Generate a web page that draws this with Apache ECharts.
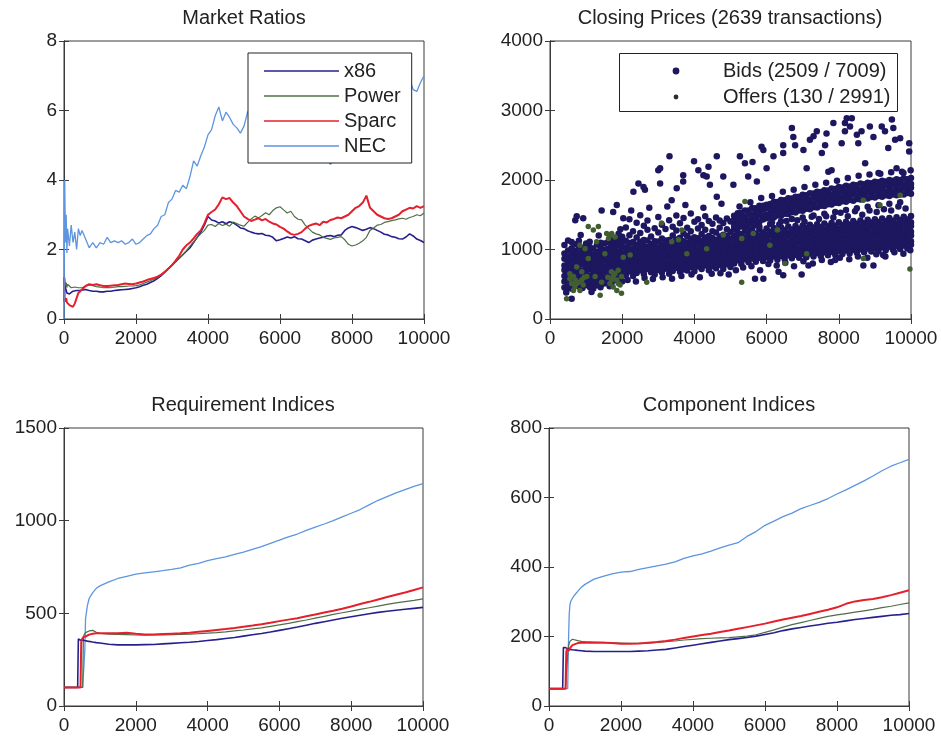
<!DOCTYPE html>
<html>
<head>
<meta charset="utf-8">
<script src="https://cdn.jsdelivr.net/npm/echarts@6/dist/echarts.min.js"></script>
<style>
  html, body { margin: 0; padding: 0; background: #fff; }
  #chart { width: 941px; height: 739px; }
</style>
</head>
<body>
<div id="chart"></div>
<script>
// ---------- Market ratios (time step vs. ratio) ----------
const ratioX = [0, 20, 40, 60, 80, 100, 150, 200, 250, 300, 350, 400, 450, 500,
  600, 700, 800, 900, 1000, 1100, 1200, 1300, 1400, 1500,
  1600, 1700, 1800, 1900, 2000, 2100, 2200, 2300, 2400, 2500,
  2600, 2700, 2800, 2900, 3000, 3100, 3200, 3300, 3400, 3500,
  3600, 3700, 3800, 3900, 4000, 4100, 4200, 4300, 4400, 4500,
  4600, 4700, 4800, 4900, 5000, 5100, 5200, 5300, 5400, 5500,
  5600, 5700, 5800, 5900, 6000, 6100, 6200, 6300, 6400, 6500,
  6600, 6700, 6800, 6900, 7000, 7100, 7200, 7300, 7400, 7500,
  7600, 7700, 7800, 7900, 8000, 8100, 8200, 8300, 8400, 8500,
  8600, 8700, 8800, 8900, 9000, 9100, 9200, 9300, 9400, 9500,
  9600, 9700, 9800, 9900, 10000];

const ratioX86 = [0.5, 1.0, 0.9, 0.85, 0.75, 0.8, 0.72, 0.75, 0.8, 0.78, 0.82, 0.85, 0.82, 0.85,
  0.85, 0.82, 0.8, 0.8, 0.78, 0.78, 0.8, 0.8, 0.82, 0.83,
  0.84, 0.85, 0.86, 0.88, 0.9, 0.93, 0.97, 1.0, 1.05, 1.1,
  1.17, 1.25, 1.35, 1.45, 1.55, 1.65, 1.75, 1.85, 1.95, 2.05,
  2.2, 2.35, 2.5, 2.7, 2.95, 2.85, 2.82, 2.76, 2.8, 2.74,
  2.8, 2.77, 2.7, 2.62, 2.6, 2.54, 2.5, 2.47, 2.45, 2.46,
  2.41, 2.4, 2.35, 2.25, 2.28, 2.32, 2.36, 2.33, 2.37, 2.31,
  2.3, 2.25, 2.2, 2.27, 2.3, 2.33, 2.35, 2.39, 2.4, 2.37,
  2.41, 2.42, 2.55, 2.62, 2.66, 2.63, 2.59, 2.55, 2.58, 2.63,
  2.6, 2.55, 2.5, 2.44, 2.42, 2.37, 2.35, 2.31, 2.3, 2.36,
  2.45, 2.39, 2.3, 2.26, 2.2];

const ratioPower = [1.0, 1.2, 0.95, 1.05, 0.9, 1.0, 0.95, 0.9, 0.88, 0.92, 0.88, 0.9, 0.93, 0.9,
  0.95, 0.98, 0.96, 0.93, 0.92, 0.9, 0.91, 0.9, 0.92, 0.93,
  0.93, 0.94, 0.95, 0.95, 0.96, 0.98, 1.02, 1.06, 1.1, 1.15,
  1.2, 1.27, 1.35, 1.45, 1.55, 1.65, 1.75, 1.85, 1.97, 2.1,
  2.22, 2.35, 2.45, 2.55, 2.7, 2.72, 2.66, 2.75, 2.69, 2.73,
  2.67, 2.79, 2.75, 2.7, 2.67, 2.78, 2.88, 2.96, 2.91, 2.98,
  3.06, 3.0, 3.12, 3.2, 3.23, 3.14, 3.05, 3.1, 2.95, 2.87,
  2.85, 2.7, 2.6, 2.5, 2.45, 2.42, 2.35, 2.32, 2.29, 2.33,
  2.35, 2.37, 2.28, 2.15, 2.1, 2.13, 2.18, 2.25, 2.35, 2.55,
  2.62, 2.7, 2.72, 2.78, 2.8, 2.83, 2.85, 2.88, 2.9, 2.87,
  2.92, 2.95, 3.0, 2.97, 3.05];

const ratioSparc = [1.2, 0.5, 0.45, 0.6, 0.48, 0.5, 0.4, 0.38, 0.35, 0.45, 0.5, 0.75, 0.8, 0.85,
  0.95, 1.0, 0.98, 1.0, 0.97, 0.95, 0.95, 0.96, 0.97, 0.98,
  1.0, 1.02, 1.01, 1.0, 1.02, 1.05, 1.08, 1.12, 1.15, 1.18,
  1.22, 1.28, 1.36, 1.45, 1.55, 1.68, 1.82, 2.0, 2.12, 2.2,
  2.32, 2.45, 2.55, 2.75, 3.0, 3.08, 3.15, 3.3, 3.5, 3.45,
  3.48, 3.35, 3.25, 3.1, 2.95, 2.88, 2.82, 2.86, 2.9, 2.84,
  2.88, 2.8, 2.75, 2.72, 2.65, 2.6, 2.52, 2.45, 2.42, 2.45,
  2.5, 2.6, 2.68, 2.72, 2.75, 2.7, 2.8, 2.78, 2.85, 2.88,
  2.92, 2.9, 2.95, 3.0, 3.1, 3.2, 3.25, 3.35, 3.55, 3.2,
  3.1, 3.0, 2.95, 2.9, 2.88, 2.9, 2.95, 3.0, 3.1, 3.15,
  3.2, 3.18, 3.25, 3.2, 3.25];

const ratioNEC = [0, 4.0, 2.2, 3.0, 1.9, 2.6, 2.1, 2.7, 2.2, 2.5, 2.0, 2.6, 2.4, 2.55,
  2.3, 2.05, 2.2, 2.05, 2.2, 2.15, 2.35, 2.2, 2.25, 2.2,
  2.25, 2.15, 2.2, 2.3, 2.15, 2.2, 2.3, 2.4, 2.45, 2.6,
  2.7, 2.95, 3.0, 3.35, 3.45, 3.7, 3.65, 3.85, 3.75, 4.1,
  4.55, 4.4, 4.7, 4.95, 5.3, 5.45, 5.85, 6.1, 5.7, 5.95,
  5.8, 5.6, 5.5, 5.35, 5.55, 5.95, 6.1, 6.0, 6.25, 6.1,
  5.9, 6.05, 5.85, 5.7, 5.75, 5.6, 5.5, 5.4, 5.45, 5.25,
  5.1, 5.15, 4.95, 4.9, 4.8, 4.85, 4.7, 4.6, 4.45, 4.55,
  4.7, 4.85, 5.0, 5.2, 5.3, 5.5, 5.65, 5.8, 5.9, 6.05,
  6.2, 6.3, 6.4, 6.5, 6.6, 6.7, 6.85, 6.95, 6.8, 6.85,
  6.9, 6.6, 6.55, 6.8, 7.0];

// ---------- Closing prices: bids by time step, [step, price, price, ...] ----------
const bidColumns = [
  [400, 452, 538, 617, 705, 771, 868, 942, 1063],
  [500, 481, 566, 649, 733, 812, 897, 986, 1131],
  [600, 436, 521, 598, 688, 759, 845, 933, 1018, 1109],
  [700, 503, 587, 672, 741, 826, 905, 978, 1076],
  [800, 468, 549, 633, 712, 798, 873, 957, 1042, 1127],
  [900, 447, 528, 606, 694, 783, 861, 939, 1022],
  [1000, 491, 572, 661, 737, 815, 896, 974, 1088],
  [1100, 462, 545, 627, 718, 792, 884, 951, 1037, 1112],
  [1200, 439, 519, 603, 684, 767, 848, 929, 1013],
  [1300, 487, 568, 644, 731, 809, 887, 966, 1071],
  [1400, 458, 537, 622, 703, 786, 869, 948, 1034, 1098],
  [1500, 512, 593, 679, 752, 838, 912, 993, 1085],
  [1600, 529, 611, 694, 776, 851, 934, 1012, 1104],
  [1700, 498, 583, 667, 745, 829, 906, 987, 1061, 1142],
  [1800, 556, 637, 718, 797, 877, 958, 1039, 1118],
  [1900, 573, 652, 734, 813, 892, 971, 1056, 1137, 1226],
  [2000, 541, 624, 706, 787, 868, 947, 1029, 1108, 1183],
  [2100, 628, 709, 787, 866, 948, 1031, 1126, 1318],
  [2200, 683, 761, 842, 919, 1004, 1093, 1204, 1437],
  [2300, 617, 697, 776, 858, 937, 1018, 1108, 1262],
  [2400, 662, 744, 823, 902, 985, 1067, 1171, 1386],
  [2500, 701, 782, 859, 941, 1026, 1112, 1239, 1493],
  [2600, 648, 727, 806, 887, 966, 1049, 1137, 1342],
  [2700, 719, 798, 879, 957, 1041, 1129, 1283, 1416],
  [2800, 674, 753, 834, 913, 996, 1078, 1187],
  [2900, 641, 722, 801, 882, 961, 1044, 1119, 1307],
  [3000, 706, 787, 866, 947, 1029, 1114, 1246, 1468],
  [3100, 668, 749, 828, 908, 989, 1072, 1158, 1357],
  [3200, 723, 803, 884, 963, 1046, 1131, 1294],
  [3300, 652, 734, 813, 894, 976, 1057, 1136, 1421],
  [3400, 691, 772, 851, 932, 1014, 1097, 1203, 1329],
  [3500, 738, 817, 898, 977, 1061, 1143, 1272, 1488],
  [3600, 679, 761, 840, 921, 1003, 1086, 1168, 1377],
  [3700, 713, 794, 873, 954, 1036, 1119, 1232, 1452],
  [3800, 697, 776, 857, 936, 1019, 1101, 1193, 1312],
  [3900, 748, 829, 908, 989, 1071, 1154, 1263, 1518],
  [4000, 688, 769, 848, 929, 1012, 1094, 1176, 1398],
  [4100, 757, 838, 917, 998, 1081, 1163, 1301, 1437],
  [4200, 721, 802, 881, 962, 1044, 1127, 1223, 1352],
  [4300, 768, 849, 928, 1009, 1092, 1174, 1284, 1479],
  [4400, 702, 783, 862, 943, 1026, 1108, 1196, 1409],
  [4500, 759, 840, 919, 1001, 1083, 1166, 1262, 1371],
  [4600, 731, 812, 891, 972, 1055, 1137, 1243, 1462],
  [4700, 779, 860, 939, 1021, 1103, 1186, 1312, 1418],
  [4800, 718, 799, 878, 959, 1042, 1124, 1211, 1383],
  [4900, 788, 869, 948, 1029, 1112, 1194, 1293, 1447],
  [5000, 749, 830, 909, 990, 1073, 1155, 1252, 1403],
  [5100, 798, 881, 936, 1011, 1062, 1147, 1203, 1291, 1338, 1425, 1484],
  [5200, 846, 889, 972, 1021, 1101, 1156, 1241, 1201, 1312, 1380, 1436, 1522],
  [5300, 791, 877, 925, 1012, 1066, 1146, 1222, 1330, 1386, 1470, 1529],
  [5400, 860, 905, 989, 1039, 1120, 1173, 1262, 1334, 1421, 1470, 1561],
  [5500, 815, 897, 944, 1027, 1079, 1164, 1218, 1289, 1366, 1419, 1506, 1560],
  [5600, 871, 916, 1000, 1049, 1133, 1188, 1277, 1369, 1455, 1505, 1596],
  [5700, 822, 906, 955, 1040, 1090, 1176, 1230, 1401, 1452, 1541, 1595],
  [5800, 880, 926, 1011, 1063, 1145, 1201, 1290, 1332, 1400, 1488, 1538, 1630],
  [5900, 834, 917, 968, 1050, 1104, 1190, 1243, 1432, 1485, 1572, 1628],
  [6000, 890, 938, 1021, 1074, 1157, 1211, 1302, 1449, 1501, 1589, 1643],
  [6100, 843, 926, 978, 1062, 1113, 1200, 1256, 1368, 1460, 1515, 1600, 1655],
  [6200, 899, 947, 1030, 1083, 1167, 1220, 1311, 1459, 1545, 1598, 1688],
  [6300, 853, 937, 989, 1072, 1124, 1209, 1268, 1489, 1540, 1629, 1683],
  [6400, 908, 956, 1039, 1091, 1177, 1231, 1320, 1407, 1485, 1571, 1624, 1712],
  [6500, 864, 946, 998, 1082, 1134, 1220, 1279, 1514, 1566, 1654, 1708],
  [6600, 917, 965, 1049, 1100, 1186, 1240, 1330, 1510, 1597, 1650, 1737],
  [6700, 873, 955, 1008, 1091, 1145, 1229, 1288, 1438, 1537, 1593, 1679, 1733],
  [6800, 926, 974, 1057, 1110, 1194, 1249, 1339, 1534, 1620, 1675, 1760],
  [6900, 881, 965, 1016, 1101, 1154, 1240, 1297, 1561, 1616, 1702, 1758],
  [7000, 935, 983, 1066, 1119, 1204, 1258, 1347, 1462, 1558, 1644, 1699, 1786],
  [7100, 890, 974, 1026, 1110, 1163, 1249, 1308, 1585, 1639, 1726, 1781],
  [7200, 943, 991, 1075, 1128, 1213, 1268, 1356, 1580, 1667, 1721, 1809],
  [7300, 899, 982, 1035, 1120, 1173, 1258, 1316, 1489, 1607, 1663, 1749, 1804],
  [7400, 951, 1000, 1084, 1137, 1222, 1276, 1365, 1603, 1690, 1744, 1831],
  [7500, 908, 991, 1044, 1129, 1182, 1267, 1325, 1630, 1685, 1772, 1826],
  [7600, 960, 1009, 1093, 1146, 1231, 1285, 1374, 1514, 1625, 1712, 1767, 1854],
  [7700, 917, 1000, 1053, 1138, 1191, 1276, 1334, 1652, 1707, 1794, 1849],
  [7800, 969, 1018, 1102, 1155, 1240, 1294, 1383, 1647, 1734, 1789, 1876],
  [7900, 925, 1009, 1062, 1147, 1200, 1285, 1343, 1541, 1674, 1729, 1816, 1871],
  [8000, 978, 1027, 1111, 1164, 1249, 1303, 1392, 1669, 1756, 1811, 1898],
  [8100, 934, 1018, 1071, 1156, 1209, 1294, 1352, 1694, 1749, 1836, 1891],
  [8200, 987, 1036, 1120, 1173, 1258, 1312, 1401, 1568, 1687, 1774, 1829, 1916],
  [8300, 943, 1027, 1080, 1165, 1218, 1303, 1361, 1711, 1766, 1853, 1908],
  [8400, 996, 1045, 1129, 1182, 1267, 1321, 1410, 1703, 1790, 1845, 1932],
  [8500, 952, 1036, 1089, 1174, 1227, 1312, 1370, 1592, 1727, 1782, 1869, 1924],
  [8600, 1005, 1054, 1138, 1191, 1276, 1330, 1419, 1719, 1806, 1861, 1948],
  [8700, 961, 1045, 1098, 1183, 1236, 1321, 1379, 1742, 1797, 1884, 1939],
  [8800, 1014, 1063, 1147, 1200, 1285, 1339, 1428, 1615, 1733, 1820, 1875, 1962],
  [8900, 970, 1054, 1107, 1192, 1245, 1330, 1388, 1756, 1811, 1898, 1953],
  [9000, 1023, 1072, 1156, 1209, 1294, 1348, 1437, 1747, 1834, 1889, 1976],
  [9100, 979, 1063, 1116, 1201, 1254, 1339, 1397, 1637, 1769, 1824, 1911, 1966],
  [9200, 1032, 1081, 1165, 1218, 1303, 1357, 1446, 1759, 1846, 1901, 1988],
  [9300, 988, 1072, 1125, 1210, 1263, 1348, 1406, 1781, 1836, 1923, 1978],
  [9400, 1041, 1090, 1174, 1227, 1312, 1366, 1455, 1658, 1771, 1858, 1913, 2000],
  [9500, 997, 1081, 1134, 1219, 1272, 1357, 1415, 1793, 1848, 1935, 1990],
  [9600, 1050, 1099, 1183, 1236, 1321, 1375, 1464, 1782, 1869, 1924, 2011],
  [9700, 1006, 1090, 1143, 1228, 1281, 1366, 1424, 1679, 1803, 1858, 1945, 2000],
  [9800, 1059, 1108, 1192, 1245, 1330, 1384, 1473, 1792, 1879, 1934, 2021],
  [9900, 1015, 1099, 1152, 1237, 1290, 1375, 1433, 1812, 1867, 1954, 2009],
  [10000, 1068, 1117, 1201, 1254, 1339, 1393, 1482, 1801, 1888, 1943, 2030]
];

// bids just outside the dense bands, [step, price]
const bidFringe = [
  [2150, 560], [2380, 540], [2620, 590], [2850, 575], [3120, 600], [3380, 580], [3640, 620],
  [3920, 640], [4150, 600], [4480, 650], [4720, 660], [4950, 640], [5150, 700], [5350, 740],
  [5580, 760], [5820, 700], [6050, 790], [6280, 770], [6520, 810], [6760, 760], [7020, 830],
  [7280, 800], [7530, 850], [7780, 820], [8030, 880], [8290, 860], [8530, 900], [8790, 880],
  [9040, 930], [9290, 900], [9540, 960], [9790, 940], [9980, 990],
  [5450, 1290], [5650, 1340], [6150, 1390], [6350, 1360], [6550, 1410], [6850, 1420],
  [7050, 1400], [7250, 1470], [7450, 1440], [7650, 1480], [7850, 1460], [8050, 1530],
  [8250, 1480], [8450, 1550], [8650, 1500], [8850, 1560], [9050, 1540], [9250, 1580],
  [9450, 1560], [9650, 1620], [9850, 1590],
  [5250, 1620], [5550, 1680], [5850, 1740], [6150, 1770], [6450, 1830], [6750, 1860],
  [7050, 1900], [7350, 1930], [7650, 1960], [7950, 1990], [8250, 2030], [8550, 2060],
  [8850, 2080], [9150, 2090], [9450, 2110], [9750, 2120], [9990, 2140],
  [2250, 1560], [2750, 1600], [3250, 1620], [3750, 1640], [4250, 1600], [4750, 1660],
  [450, 380], [1150, 390], [1650, 470], [1950, 1290], [1350, 1200], [850, 1210]
];

// bids well away from the bands, [step, price]
const bidOutliers = [
  [450, 440], [600, 290], [700, 1420], [740, 1480], [920, 1450], [1430, 1560], [1750, 1540],
  [1850, 1640], [2030, 1450], [2310, 1830], [2450, 1950], [2590, 1900], [2630, 1860],
  [3000, 2140], [3050, 2170], [3050, 1950], [3310, 2340], [3370, 1710], [3510, 1880],
  [3690, 2070], [3690, 1980], [3990, 2270], [4110, 2140], [4250, 2070], [4340, 2050],
  [4390, 2190], [4430, 1930], [4620, 2340], [4620, 1760], [4800, 2050], [5080, 1930],
  [5260, 2340], [5400, 2240], [5490, 2050], [5610, 2260], [5730, 1980], [5860, 2480],
  [5910, 2430], [6000, 2170], [6190, 2340], [6460, 2390], [6460, 2500], [6700, 2750],
  [6740, 2620], [6790, 2500], [7020, 2430], [7110, 2170], [7200, 2580], [7300, 2630],
  [7390, 2700], [7530, 2390], [7620, 2500], [7660, 2670], [7710, 2120], [7800, 2140],
  [7850, 2820], [8080, 2530], [8170, 2700], [8170, 2820], [8220, 2890], [8310, 2770],
  [8360, 2890], [8500, 2650], [8540, 2530], [8630, 2700], [8730, 2240], [8860, 2770],
  [8960, 2620], [9100, 2100], [9190, 2770], [9280, 2700], [9370, 2460], [9470, 2870],
  [9510, 2750], [9560, 2580], [9600, 2170], [9700, 2600], [9790, 2100], [9950, 2530],
  [9950, 2410], [5680, 580], [5910, 580], [6330, 680], [6460, 630], [6970, 640],
  [7160, 770], [7900, 850], [8680, 770], [8960, 770], [9230, 920]
];

// offers, [step, price]
const offerPoints = [
  [460, 290], [550, 650], [600, 510], [650, 610], [690, 460], [740, 750], [790, 530],
  [830, 410], [880, 680], [920, 490], [830, 1060], [970, 1010], [1060, 870], [1060, 1330],
  [1200, 1280], [1340, 1330], [1290, 1110], [1250, 610], [1390, 340], [1430, 530],
  [1520, 940], [1570, 1230], [1620, 1160], [1660, 1210], [1710, 560], [1750, 460],
  [1800, 650], [1850, 410], [1890, 510], [1800, 1180], [1710, 1230], [1980, 370],
  [1980, 610], [2030, 890], [2220, 920], [2680, 530], [3090, 1380], [3370, 1110],
  [3560, 1140], [3650, 1280], [3790, 940], [4340, 1010], [4800, 1210], [5310, 1160],
  [5400, 1690], [5630, 1230], [6090, 1060], [6300, 1280], [6510, 800], [7110, 940],
  [8680, 870], [8680, 1710], [9140, 1640], [9700, 1780], [650, 410], [740, 510],
  [880, 560], [550, 580], [1020, 610], [1850, 560], [1940, 490], [1750, 610],
  [1660, 510], [1890, 700], [700, 560], [950, 600], [1600, 600], [1700, 680],
  [5310, 530], [9970, 720]
];

// ---------- Requirement and component indices ----------
const indexX = [0, 380, 400, 420, 460, 480, 500, 520, 540, 560, 580, 600, 650, 700, 800, 900,
  1000, 1250, 1500, 1750, 2000, 2250, 2500, 2750, 3000, 3250, 3500, 3750, 4000, 4250,
  4500, 4750, 5000, 5250, 5500, 5750, 6000, 6250, 6500, 6750, 7000, 7250, 7500, 7750,
  8000, 8250, 8500, 8750, 9000, 9250, 9500, 9750, 10000];

const reqX86 = [100, 100, 362, 358, 355, 360, 358, 356, 355, 354, 353, 352, 350, 348, 345, 342,
  340, 333, 330, 330, 330, 331, 332, 335, 338, 341, 344, 348, 353, 358,
  364, 370, 377, 384, 391, 399, 408, 417, 426, 436, 446, 455, 464, 473,
  482, 490, 498, 505, 511, 517, 522, 527, 532];
const reqPower = [100, 100, 100, 100, 100, 100, 100, 100, 370, 385, 392, 396, 400, 405, 408, 398,
  392, 388, 386, 385, 383, 382, 383, 384, 385, 386, 388, 390, 393, 396,
  400, 405, 410, 416, 422, 430, 438, 446, 455, 464, 474, 484, 494, 503,
  512, 521, 530, 539, 548, 556, 563, 570, 578];
const reqSparc = [100, 100, 100, 100, 100, 345, 360, 368, 372, 370, 372, 375, 380, 385, 390, 392,
  393, 392, 393, 395, 390, 386, 386, 388, 390, 392, 395, 400, 405, 410,
  415, 421, 428, 434, 441, 449, 458, 466, 474, 484, 494, 504, 514, 525,
  537, 550, 562, 575, 588, 600, 612, 626, 640];
const reqNEC = [100, 100, 100, 100, 100, 100, 100, 100, 100, 100, 300, 470, 540, 580, 612, 635,
  648, 670, 688, 700, 712, 718, 724, 730, 737, 745, 760, 770, 785, 795,
  805, 818, 830, 845, 860, 878, 895, 912, 928, 948, 965, 982, 1000, 1020,
  1040, 1060, 1085, 1110, 1130, 1150, 1168, 1185, 1200];

const compX86 = [50, 50, 168, 170, 168, 166, 165, 165, 164, 164, 163, 163, 162, 161, 160, 159,
  158, 157, 157, 157, 157, 157, 158, 159, 161, 163, 167, 171, 175, 179,
  183, 187, 191, 194, 197, 201, 206, 211, 217, 222, 226, 230, 234, 238,
  241, 245, 249, 252, 255, 258, 261, 263, 266];
const compPower = [50, 50, 50, 50, 50, 50, 50, 150, 170, 180, 186, 189, 192, 190, 188, 186,
  185, 184, 183, 182, 181, 180, 180, 181, 183, 185, 187, 190, 192, 194,
  195, 196, 197, 199, 201, 205, 212, 219, 227, 234, 240, 246, 252, 258,
  262, 266, 270, 274, 278, 283, 287, 292, 297];
const compSparc = [50, 50, 50, 50, 50, 155, 165, 160, 158, 162, 166, 170, 175, 178, 181, 182,
  182, 182, 182, 181, 179, 179, 180, 182, 184, 187, 191, 196, 200, 204,
  208, 213, 217, 222, 227, 232, 237, 243, 249, 254, 259, 265, 271, 277,
  284, 294, 301, 305, 308, 313, 319, 326, 333];
const compNEC = [50, 50, 50, 50, 50, 50, 50, 50, 180, 260, 290, 300, 310, 318, 330, 342,
  350, 365, 373, 380, 385, 387, 393, 398, 403, 408, 415, 425, 432, 438,
  446, 455, 463, 470, 488, 502, 520, 532, 545, 555, 568, 577, 586, 597,
  610, 622, 635, 648, 662, 677, 690, 700, 710];

const platforms = ['x86', 'Power', 'Sparc', 'NEC'];
const titles = ['Market Ratios', 'Closing Prices (2639 transactions)', 'Requirement Indices', 'Component Indices'];
const priceLabels = ['Bids (2509 / 7009)', 'Offers (130 / 2991)'];
const xTicks = [0, 10000, 2000];
const yRanges = [[0, 8, 2], [0, 4000, 1000], [0, 1500, 500], [0, 800, 200]];

// ---------- styling ----------
const FONT = '"Liberation Sans", Arial, Helvetica, sans-serif';
const INK = '#222';
const AXIS = '#3a3a3a';
const lineColors = { x86: '#27208c', Power: '#4f6e47', Sparc: '#e3202c', NEC: '#5d95df' };
const lineWidths = { x86: 1.6, Power: 1.2, Sparc: 2.0, NEC: 1.3 };
const bidColor = '#1d1760';
const offerColor = '#415e30';

const grids = [
  { left: 64, top: 41, width: 360, height: 278 },
  { left: 550, top: 41, width: 361, height: 278 },
  { left: 64, top: 428, width: 359, height: 278 },
  { left: 549, top: 428, width: 360, height: 278 }
];

function zip(xs, ys) { return xs.map((x, i) => [x, ys[i]]); }
const plain = v => String(v);

const xAxes = [], yAxes = [];
grids.forEach((g, i) => {
  const tick = { show: true, inside: true, length: 5, lineStyle: { color: AXIS, width: 1 } };
  const line = { show: true, lineStyle: { color: AXIS, width: 1 } };
  xAxes.push({ gridIndex: i, type: 'value', position: 'bottom', min: xTicks[0], max: xTicks[1], interval: xTicks[2],
    axisLine: line, axisTick: tick, splitLine: { show: false },
    axisLabel: { color: INK, fontSize: 19, fontFamily: FONT, margin: 10, formatter: plain } });
  xAxes.push({ gridIndex: i, type: 'value', position: 'top', min: xTicks[0], max: xTicks[1], interval: xTicks[2],
    axisLine: line, axisTick: tick, splitLine: { show: false }, axisLabel: { show: false } });
  const r = yRanges[i];
  yAxes.push({ gridIndex: i, type: 'value', position: 'left', min: r[0], max: r[1], interval: r[2],
    axisLine: line, axisTick: tick, splitLine: { show: false },
    axisLabel: { color: INK, fontSize: 19, fontFamily: FONT, margin: 7, formatter: plain } });
  yAxes.push({ gridIndex: i, type: 'value', position: 'right', min: r[0], max: r[1], interval: r[2],
    axisLine: line, axisTick: tick, splitLine: { show: false }, axisLabel: { show: false } });
});

function lineSeries(name, gi, xs, ys) {
  return {
    name, type: 'line', xAxisIndex: gi * 2, yAxisIndex: gi * 2, data: zip(xs, ys),
    symbol: 'none', showSymbol: false, animation: false, color: lineColors[name],
    lineStyle: { color: lineColors[name], width: lineWidths[name] }
  };
}

const bidPoints = [];
bidColumns.forEach(col => col.slice(1).forEach(v => bidPoints.push([col[0], v])));
bidFringe.forEach(p => bidPoints.push(p));
bidOutliers.forEach(p => bidPoints.push(p));

const series = [
  lineSeries('x86', 0, ratioX, ratioX86),
  lineSeries('Power', 0, ratioX, ratioPower),
  lineSeries('Sparc', 0, ratioX, ratioSparc),
  lineSeries('NEC', 0, ratioX, ratioNEC),
  { name: priceLabels[0], type: 'scatter', xAxisIndex: 2, yAxisIndex: 2, data: bidPoints,
    symbol: 'circle', symbolSize: 6.5, color: bidColor, itemStyle: { color: bidColor, opacity: 1 }, animation: false },
  { name: priceLabels[1], type: 'scatter', xAxisIndex: 2, yAxisIndex: 2, data: offerPoints,
    symbol: 'circle', symbolSize: 5.5, color: offerColor, itemStyle: { color: offerColor, opacity: 1 }, animation: false },
  lineSeries('NEC', 2, indexX, reqNEC),
  lineSeries('Power', 2, indexX, reqPower),
  lineSeries('x86', 2, indexX, reqX86),
  lineSeries('Sparc', 2, indexX, reqSparc),
  lineSeries('NEC', 3, indexX, compNEC),
  lineSeries('Power', 3, indexX, compPower),
  lineSeries('x86', 3, indexX, compX86),
  lineSeries('Sparc', 3, indexX, compSparc)
];

const titleCenters = [[244, 8], [730, 8], [243, 395], [729, 395]];
const textFont = { fontSize: 20, fontFamily: FONT, fill: INK };

const option = {
  backgroundColor: '#fff',
  animation: false,
  title: titles.map((t, i) => ({
    text: t, left: titleCenters[i][0], top: titleCenters[i][1], textAlign: 'center', padding: 0,
    textStyle: { fontSize: 20, fontWeight: 'normal', color: INK, fontFamily: FONT }
  })),
  grid: grids.map(g => Object.assign({ show: true, borderColor: AXIS, borderWidth: 1, backgroundColor: 'transparent' }, g)),
  xAxis: xAxes,
  yAxis: yAxes,
  legend: [
    { data: platforms.map(p => ({ name: p, icon: 'rect' })), orient: 'vertical', left: 248, top: 53,
      padding: [8, 11, 7, 16], itemWidth: 75, itemHeight: 1.6, itemGap: 5,
      backgroundColor: '#fff', borderColor: '#222', borderWidth: 1, selectedMode: false,
      textStyle: { fontSize: 20, color: INK, fontFamily: FONT, lineHeight: 20 }, z: 5 }
  ],
  graphic: [
    { type: 'rect', z: 4, shape: { x: 619.5, y: 53.5, width: 278, height: 58 },
      style: { fill: '#fff', stroke: '#222', lineWidth: 1 } },
    { type: 'circle', z: 5, shape: { cx: 676, cy: 71, r: 3.4 }, style: { fill: bidColor } },
    { type: 'circle', z: 5, shape: { cx: 676, cy: 97, r: 2.4 }, style: { fill: '#2b2f28' } },
    { type: 'text', z: 5, x: 723, y: 71, style: Object.assign({ text: priceLabels[0], verticalAlign: 'middle' }, textFont) },
    { type: 'text', z: 5, x: 723, y: 97, style: Object.assign({ text: priceLabels[1], verticalAlign: 'middle' }, textFont) }
  ],
  series
};

const chart = echarts.init(document.getElementById('chart'), null, { renderer: 'canvas' });
chart.setOption(option);
</script>
</body>
</html>
